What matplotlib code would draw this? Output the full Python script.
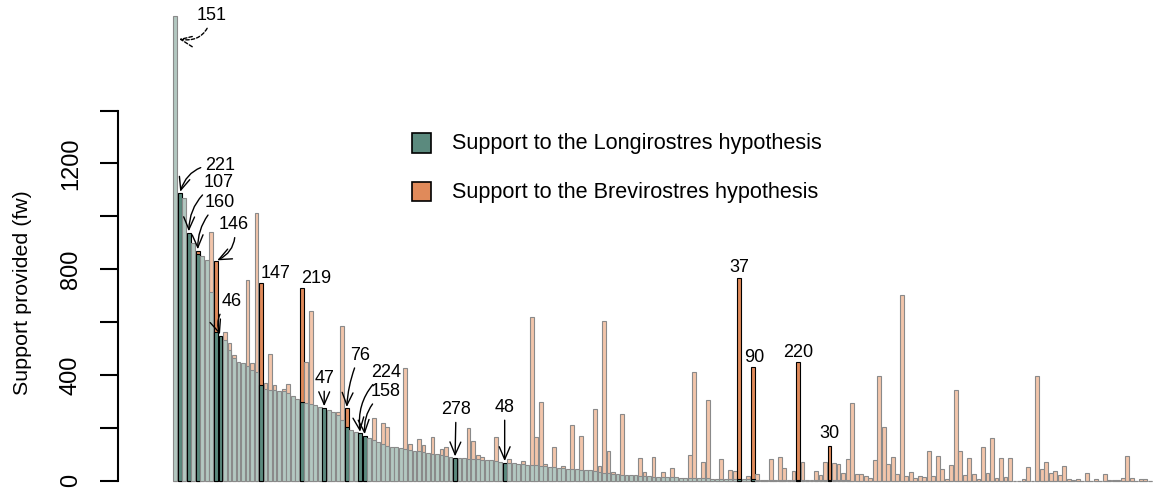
import numpy as np
import matplotlib
matplotlib.use('Agg')
from matplotlib import pyplot as plt
from matplotlib.patches import Rectangle

plt.rcParams['font.family'] = ['Liberation Sans', 'DejaVu Sans']

# support (fw) per character, sorted by Longirostres support
longi = [1760, 1088, 1070, 938, 898, 856, 850, 835, 715, 563,
         548, 532, 495, 464, 450, 445, 434, 419, 412, 362,
         345, 343, 341, 339, 338, 333, 318, 308, 296, 293,
         290, 284, 280, 276, 267, 261, 248, 229, 201, 191,
         185, 179, 170, 160, 153, 147, 138, 131, 128, 125,
         122, 120, 117, 112, 110, 106, 104, 102, 100, 97,
         93, 90, 86, 84, 84, 83, 82, 80, 78, 77,
         76, 74, 71, 68, 66, 65, 63, 62, 60, 58,
         57, 55, 53, 52, 50, 48, 47, 45, 44, 42,
         41, 40, 38, 36, 34, 30, 27, 25, 23, 22,
         21, 20, 19, 18, 17, 16, 15, 14, 14, 13,
         12, 12, 11, 10, 10, 9, 9, 8, 8, 7,
         7, 6, 6, 5, 5, 5, 4, 4, 4, 3,
         3, 3, 3, 2, 2, 2, 2, 2, 2, 1,
         1, 1, 1, 1, 1, 1, 1, 1, 1, 1] + [0]*67

brevi = [0, 0, 0, 0, 0, 870, 0, 0, 940, 831,
         0, 563, 519, 475, 0, 0, 759, 444, 1014, 749,
         368, 479, 362, 0, 345, 366, 0, 0, 728, 450,
         640, 0, 0, 0, 0, 0, 258, 585, 273, 0,
         0, 0, 0, 0, 235, 0, 219, 201, 0, 0,
         0, 427, 138, 0, 156, 134, 0, 164, 0, 119,
         128, 0, 0, 0, 0, 198, 148, 97, 90, 0,
         0, 166, 0, 0, 80, 0, 0, 74, 0, 620,
         166, 298, 61, 0, 126, 0, 55, 0, 210, 0,
         168, 0, 0, 270, 56, 605, 113, 31, 0, 252,
         0, 0, 0, 84, 33, 0, 88, 0, 31, 0,
         49, 0, 0, 0, 97, 412, 0, 70, 305, 0,
         0, 80, 0, 40, 36, 765, 0, 17, 430, 23,
         0, 0, 83, 0, 88, 46, 0, 37, 449, 70,
         0, 0, 36, 21, 69, 132, 65, 61, 27, 80,
         292, 23, 23, 17, 8, 78, 397, 204, 62, 88,
         23, 702, 18, 31, 8, 16, 12, 113, 18, 94,
         42, 5, 58, 343, 113, 20, 84, 26, 7, 126,
         30, 160, 8, 84, 12, 84, 0, 0, 7, 52,
         0, 396, 44, 69, 30, 37, 21, 55, 7, 2,
         5, 0, 27, 0, 4, 0, 25, 1, 3, 3,
         10, 94, 11, 0, 7, 4, 0]

# labelled characters: name, bar position
char_names = ['151', '221', '107', '160', '146', '46', '147', '219', '47',
              '76', '224', '158', '278', '48', '37', '90', '220', '30']
char_pos = [0, 1, 3, 5, 9, 10, 19, 28, 33, 38, 41, 42, 62, 73, 125, 128, 138, 145]

legend_labels = ['Support to the Longirostres hypothesis',
                 'Support to the Brevirostres hypothesis']

# label layout: (dx px, dy px, arrow?, rad, target series)
lab_style = {
    '151': (34, 23, True, -0.5, 'g'),
    '221': (40, 28, True, 0.4, 'g'),
    '107': (30, 50, True, 0.3, 'g'),
    '160': (22, 48, True, 0.25, 'o'),
    '146': (18, 36, True, -0.4, 'o'),
    '46': (11, 34, True, 0.4, 'g'),
    '147': (15, 9, False, 0, 'o'),
    '219': (15, 10, False, 0, 'o'),
    '47': (0, 29, True, 0, 'g'),
    '76': (13, 53, True, 0.1, 'o'),
    '224': (26, 61, True, 0.3, 'g'),
    '158': (21, 44, True, 0.3, 'g'),
    '278': (1, 48, True, 0, 'g'),
    '48': (0, 55, True, 0, 'g'),
    '37': (0, 11, False, 0, 'o'),
    '90': (1, 9, False, 0, 'o'),
    '220': (0, 9, False, 0, 'o'),
    '30': (0, 12, False, 0, 'o'),
}

c_lg = '#b3c8c1'
c_dg = '#5b8a7e'
c_lo = '#f2c5aa'
c_do = '#e08a5a'
c_edge = '#8a8a8a'

W, H = 1159, 491
fig = plt.figure(figsize=(W/100, H/100), dpi=100)
ax = fig.add_axes([118/W, (H-480.5)/H, (W-118)/W, 470.5/H])

x = np.arange(len(longi))
dark = set(char_pos[1:])
o_col = [c_do if i in dark else c_lo for i in x]
g_col = [c_dg if i in dark else c_lg for i in x]
o_ec = ['black' if i in dark else c_edge for i in x]
g_ec = ['black' if i in dark else c_edge for i in x]

ax.bar(x, brevi, width=0.85, color=o_col, edgecolor=o_ec, linewidth=0.8, zorder=2, clip_on=False)
ax.bar(x, longi, width=0.85, color=g_col, edgecolor=g_ec, linewidth=0.8, zorder=3, clip_on=False)

ax.set_xlim(-12.70, 218.02)
ax.set_ylim(0, 1781)

for name, i in zip(char_names, char_pos):
    dx, dy, arrow, rad, tgt = lab_style[name]
    if name == '151':
        xy = (i + 0.5, longi[i]*0.95)
    else:
        xy = (i, longi[i] if tgt == 'g' else brevi[i])
    kw = dict(xy=xy, xytext=(dx, dy), textcoords='offset pixels',
              ha='center', va='center', fontsize=13, zorder=5)
    if arrow:
        ap = dict(arrowstyle='->,head_length=0.7,head_width=0.3', color='black', lw=1.0,
                  shrinkA=1, shrinkB=1, connectionstyle='arc3,rad=%s' % rad)
        if name == '151':
            ap['linestyle'] = (0, (2.5, 1.5))
        kw['arrowprops'] = ap
    ax.annotate(name, **kw)

for s in ['top', 'right', 'bottom']:
    ax.spines[s].set_visible(False)
ax.spines['left'].set_bounds(0, 1400)
ax.spines['left'].set_linewidth(1.5)
ax.set_xticks([])
yt = np.arange(0, 1401, 200)
ax.set_yticks(yt)
ax.set_yticklabels([str(v) if v % 400 == 0 else '' for v in yt])
ax.tick_params(axis='y', length=13, width=1.5, pad=13, labelsize=17)
for lab in ax.get_yticklabels():
    lab.set_rotation(90)
    lab.set_va('center')

fig.text(22.5/W, 1 - 292.5/H, 'Support provided (fw)', rotation=90,
         ha='center', va='center', fontsize=15.4)

# legend
for k, (lab, col) in enumerate(zip(legend_labels, [c_dg, c_do])):
    top = 133.3 + k*48.4
    fig.patches.append(Rectangle((411.7/W, 1 - (top+19.2)/H), 19/W, 19.2/H,
                                 transform=fig.transFigure, facecolor=col,
                                 edgecolor='black', linewidth=1.2))
    fig.text(451.7/W, 1 - (top+16.2)/H, lab, ha='left', va='baseline', fontsize=15.6)

fig.savefig('out.png', dpi=100)
